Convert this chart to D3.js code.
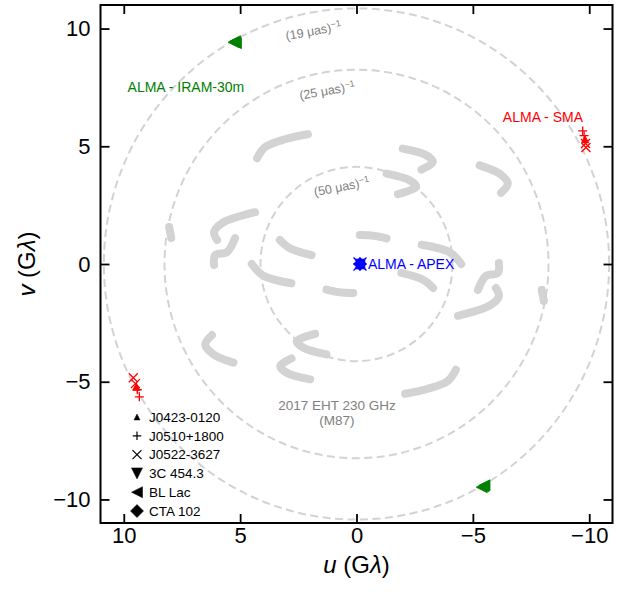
<!DOCTYPE html>
<html>
<head>
<meta charset="utf-8">
<script src="https://cdn.jsdelivr.net/npm/d3@7"></script>
<style>
  body { margin: 0; background: #fff; }
  text { font-family: "Liberation Sans", Arial, sans-serif; }
</style>
</head>
<body>
<svg id="chart" width="620" height="596"></svg>
<script>
// ---- data (u, v in G-lambda) ----
const tickValues = [-10, -5, 0, 5, 10];

// 2017 EHT M87 tracks, one half; the conjugate half is (-u, -v)
const ehtTracks = [
  [[4.27, 4.49], [3.93, 4.96], [3.07, 5.30], [2.09, 5.51]],
  [[-1.99, 4.90], [-3.00, 4.62], [-3.28, 4.33], [-2.79, 4.01]],
  [[-1.29, 3.84], [-2.28, 3.56], [-2.57, 3.28], [-1.78, 2.97]],
  [[-5.29, 4.19], [-6.14, 3.84], [-6.50, 3.42], [-6.21, 3.02]],
  [[4.36, 2.20], [5.77, 1.74], [6.12, 1.36], [5.99, 1.02]],
  [[5.22, 1.10], [5.56, 0.51], [6.07, 0.38], [6.12, -0.04]],
  [[8.05, 1.57], [7.96, 1.10]],
  [[3.29, 1.02], [2.86, 0.67], [1.93, 0.38]],
  [[-0.14, 1.23], [-0.75, 1.20], [-1.29, 1.09]],
  [[-2.80, 0.82], [-4.00, 0.50], [-4.50, 0.00]]
];

// resolution circles
const circleMuas = [19, 25, 50];
const circleLabelAngle = [10.6, 9.7, 11.0];   // degrees from +v axis

// calibrator sources
const sources = ['J0423-0120', 'J0510+1800', 'J0522-3627', '3C 454.3', 'BL Lac', 'CTA 102'];
const sourceMarker = ['^', '+', 'x', 'v', '<', 'D'];

// baselines to ALMA: [sourceIndex, u, v]
const smaPoints = [
  [1, -9.72, 5.65], [1, -9.78, 5.45], [0, -9.82, 5.30], [2, -9.84, 5.12], [2, -9.86, 4.95],
  [2, 9.59, -4.83], [2, 9.50, -5.08], [0, 9.46, -5.21], [1, 9.42, -5.34], [1, 9.33, -5.64]
];
const iramPoints = [
  [4, 5.28, 9.42], [4, 5.18, 9.38], [4, 5.22, 9.46],
  [4, -5.45, -9.44], [4, -5.38, -9.48], [4, -5.50, -9.40]
];
const apexPoints = [
  [0, -0.15, 0.0], [1, -0.15, 0.0], [2, -0.15, 0.0], [3, -0.15, 0.0], [4, -0.15, 0.0], [5, -0.15, 0.0]
];

// ---- layout ----
const svg = d3.select('#chart');
const mLeft = 100.5, mRight = 612.5, mTop = 5, mBottom = 523;
const x = d3.scaleLinear().domain([11, -11]).range([mLeft, mRight]);
const y = d3.scaleLinear().domain([-11, 11]).range([mBottom, mTop]);

const grey = '#d3d3d3';

// resolution circles
const muasRad = Math.PI / 180 / 3600 / 1e6;
const radii = circleMuas.map(m => 1 / (m * muasRad) / 1e9);

svg.append('g').selectAll('ellipse')
  .data(radii)
  .join('ellipse')
  .attr('cx', x(0)).attr('cy', y(0))
  .attr('rx', d => x(0) - x(d))
  .attr('ry', d => y(0) - y(d))
  .attr('fill', 'none')
  .attr('stroke', grey)
  .attr('stroke-width', 2)
  .attr('stroke-dasharray', '8,4.5');

// circle labels
const labG = svg.append('g');
radii.forEach((r, i) => {
  const a = circleLabelAngle[i] * Math.PI / 180;
  const rr = r - 0.78;
  const px = x(rr * Math.sin(a)), py = y(rr * Math.cos(a));
  const t = labG.append('text')
    .attr('transform', `translate(${px},${py}) rotate(${-circleLabelAngle[i]})`)
    .attr('text-anchor', 'middle')
    .attr('dy', '0.35em')
    .attr('font-size', 12.5)
    .attr('fill', 'gray');
  t.append('tspan').text(`(${circleMuas[i]} μas)`);
  t.append('tspan').attr('dy', '-0.45em').attr('font-size', 9).text('−1');
});

// EHT tracks (plus conjugates)
const allTracks = ehtTracks.concat(ehtTracks.map(tr => tr.map(([u, v]) => [-u, -v])));
const line = d3.line().x(d => x(d[0])).y(d => y(d[1])).curve(d3.curveCatmullRom);
svg.append('g').selectAll('path')
  .data(allTracks)
  .join('path')
  .attr('d', line)
  .attr('fill', 'none')
  .attr('stroke', grey)
  .attr('stroke-width', 8)
  .attr('stroke-linecap', 'round')
  .attr('stroke-linejoin', 'round');

// marker shapes
function markerPath(m, s) {
  const h = s / 2;
  switch (m) {
    case '^': return `M0,${-h}L${h},${h}L${-h},${h}Z`;
    case 'v': return `M0,${h}L${h},${-h}L${-h},${-h}Z`;
    case '<': return `M${-h},0L${h},${-h}L${h},${h}Z`;
    case 'D': return `M0,${-h}L${h},0L0,${h}L${-h},0Z`;
    case '+': return `M${-h},0H${h}M0,${-h}V${h}`;
    case 'x': return `M${-h},${-h}L${h},${h}M${-h},${h}L${h},${-h}`;
  }
}
const isLine = m => m === '+' || m === 'x';
function drawMarkers(g, pts, color, size, triScale) {
  g.selectAll('path')
    .data(pts)
    .join('path')
    .attr('transform', d => `translate(${x(d[1])},${y(d[2])})`)
    .attr('d', d => {
      const m = sourceMarker[d[0]];
      const s = m === 'D' || isLine(m) ? size : size * triScale;
      return markerPath(m, s);
    })
    .attr('fill', d => isLine(sourceMarker[d[0]]) ? 'none' : color)
    .attr('stroke', color)
    .attr('stroke-width', d => isLine(sourceMarker[d[0]]) ? 1.3 : 0.8);
}
drawMarkers(svg.append('g'), smaPoints, 'red', 9, 0.8);
drawMarkers(svg.append('g'), iramPoints, 'green', 11, 1);
drawMarkers(svg.append('g'), apexPoints, 'blue', 13, 0.75);

// baseline labels
const ann = svg.append('g').attr('font-size', 14);
ann.append('text').attr('x', x(7.33)).attr('y', y(7.52)).attr('dy', '0.35em')
  .attr('text-anchor', 'middle').attr('fill', 'green').text('ALMA - IRAM-30m');
ann.append('text').attr('x', x(-8.01)).attr('y', y(6.24)).attr('dy', '0.35em')
  .attr('text-anchor', 'middle').attr('fill', 'red').text('ALMA - SMA');
ann.append('text').attr('x', x(-0.49)).attr('y', y(0)).attr('dy', '0.35em')
  .attr('text-anchor', 'start').attr('fill', 'blue').text('ALMA - APEX');
ann.append('text').attr('x', x(0.84)).attr('y', y(-5.99)).attr('dy', '0.35em')
  .attr('text-anchor', 'middle').attr('fill', 'gray').attr('font-size', 13.5).text('2017 EHT 230 GHz');
ann.append('text').attr('x', x(0.84)).attr('y', y(-6.62)).attr('dy', '0.35em')
  .attr('text-anchor', 'middle').attr('fill', 'gray').attr('font-size', 13.5).text('(M87)');

// legend
const legend = svg.append('g').attr('transform', 'translate(137,417)');
const legSizes = [6, 8.5, 9, 11, 11, 13];
sources.forEach((s, i) => {
  const row = legend.append('g').attr('transform', `translate(0,${i * 18.8})`);
  const m = sourceMarker[i];
  row.append('path')
    .attr('d', markerPath(m, legSizes[i]))
    .attr('fill', isLine(m) ? 'none' : 'black')
    .attr('stroke', 'black')
    .attr('stroke-width', isLine(m) ? 1.2 : 0.5);
  row.append('text').attr('x', 12).attr('dy', '0.36em')
    .attr('font-size', 13.5).text(s);
});

// axes with inward ticks on all sides
const fmt = d => d < 0 ? '−' + Math.abs(d) : String(d);
const tickLen = 9;
svg.append('g').attr('transform', `translate(0,${mBottom})`)
  .call(d3.axisBottom(x).tickValues(tickValues).tickSize(-tickLen).tickPadding(4).tickFormat(fmt));
svg.append('g').attr('transform', `translate(0,${mTop})`)
  .call(d3.axisTop(x).tickValues(tickValues).tickSize(-tickLen).tickFormat(''));
svg.append('g').attr('transform', `translate(${mLeft},0)`)
  .call(d3.axisLeft(y).tickValues(tickValues).tickSize(-tickLen).tickPadding(10).tickFormat(fmt));
svg.append('g').attr('transform', `translate(${mRight},0)`)
  .call(d3.axisRight(y).tickValues(tickValues).tickSize(-tickLen).tickFormat(''));

svg.selectAll('.domain').remove();
svg.selectAll('.tick line').attr('stroke', 'black').attr('stroke-width', 1.8);
svg.selectAll('.tick text').attr('font-size', 22).attr('fill', 'black')
  .style('font-family', '"Liberation Sans", Arial, sans-serif');

svg.append('rect')
  .attr('x', mLeft).attr('y', mTop)
  .attr('width', mRight - mLeft).attr('height', mBottom - mTop)
  .attr('fill', 'none').attr('stroke', 'black').attr('stroke-width', 2);

// axis titles
const xt = svg.append('text').attr('x', (mLeft + mRight) / 2).attr('y', 573)
  .attr('text-anchor', 'middle').attr('font-size', 24);
xt.append('tspan').attr('font-style', 'italic').text('u');
xt.append('tspan').text(' (G');
xt.append('tspan').attr('font-style', 'italic').text('λ');
xt.append('tspan').text(')');

const yt = svg.append('text')
  .attr('transform', `translate(35,${(mTop + mBottom) / 2}) rotate(-90)`)
  .attr('text-anchor', 'middle').attr('font-size', 24);
yt.append('tspan').attr('font-style', 'italic').text('v');
yt.append('tspan').text(' (G');
yt.append('tspan').attr('font-style', 'italic').text('λ');
yt.append('tspan').text(')');
</script>
</body>
</html>
